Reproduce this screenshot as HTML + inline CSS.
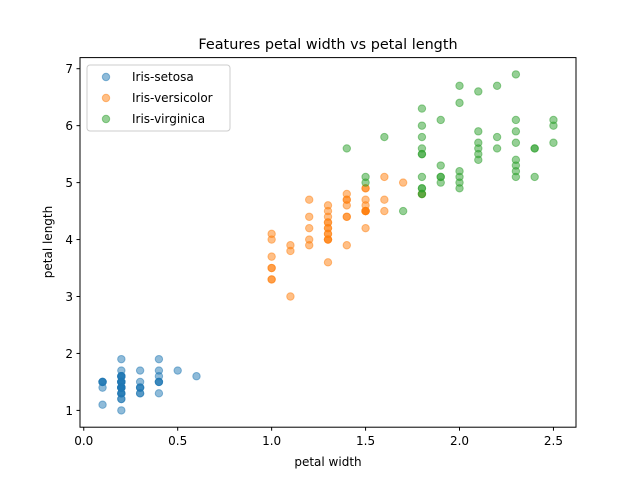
<!DOCTYPE html>
<html><head><meta charset="utf-8"><style>body{margin:0;background:#fff}svg{display:block;font-family:"DejaVu Sans","Liberation Sans",sans-serif}</style></head>
<body>
<svg id="c" width="640" height="480">
<rect width="640" height="480" fill="#fff"/>
<g id="pts"></g>
<rect x="80" y="57.6" width="496" height="369.6" fill="none" stroke="#000" stroke-width="1"/>
<g id="axes"></g>
<text x="328" y="49" font-size="14.4" text-anchor="middle">Features petal width vs petal length</text>
<text x="328" y="466" font-size="12" text-anchor="middle">petal width</text>
<text x="52" y="242" font-size="12" text-anchor="middle" transform="rotate(-90 52 242)">petal length</text>
<g>
<rect x="87" y="65" width="143" height="66" rx="3" fill="#fff" fill-opacity="0.8" stroke="#ccc"/>
<circle cx="106" cy="77" r="3.7" fill="#1f77b4" fill-opacity="0.5" stroke="#1f77b4" stroke-opacity="0.5"/>
<text x="132" y="81" font-size="12">Iris-setosa</text>
<circle cx="106" cy="98" r="3.7" fill="#ff7f0e" fill-opacity="0.5" stroke="#ff7f0e" stroke-opacity="0.5"/>
<text x="132" y="102" font-size="12">Iris-versicolor</text>
<circle cx="106" cy="119" r="3.7" fill="#2ca02c" fill-opacity="0.5" stroke="#2ca02c" stroke-opacity="0.5"/>
<text x="132" y="123" font-size="12">Iris-virginica</text>
</g>
</svg>
<script>
const setosaLength=[1.4,1.4,1.3,1.5,1.4,1.7,1.4,1.5,1.4,1.5,1.5,1.6,1.4,1.1,1.2,1.5,1.3,1.4,1.7,1.5,1.7,1.5,1.0,1.7,1.9,1.6,1.6,1.5,1.4,1.6,1.6,1.5,1.5,1.4,1.5,1.2,1.3,1.5,1.3,1.5,1.3,1.3,1.3,1.6,1.9,1.4,1.6,1.4,1.5,1.4];
const setosaWidth=[.2,.2,.2,.2,.2,.4,.3,.2,.2,.1,.2,.2,.1,.1,.2,.4,.4,.3,.3,.3,.2,.4,.2,.5,.2,.2,.4,.2,.2,.2,.2,.4,.1,.2,.1,.2,.2,.1,.2,.2,.3,.3,.2,.6,.4,.3,.2,.2,.2,.2];
const versicolorLength=[4.7,4.5,4.9,4.0,4.6,4.5,4.7,3.3,4.6,3.9,3.5,4.2,4.0,4.7,3.6,4.4,4.5,4.1,4.5,3.9,4.8,4.0,4.9,4.7,4.3,4.4,4.8,5.0,4.5,3.5,3.8,3.7,3.9,5.1,4.5,4.5,4.7,4.4,4.1,4.0,4.4,4.6,4.0,3.3,4.2,4.2,4.2,4.3,3.0,4.1];
const versicolorWidth=[1.4,1.5,1.5,1.3,1.5,1.3,1.6,1.0,1.3,1.4,1.0,1.5,1.0,1.4,1.3,1.4,1.5,1.0,1.5,1.1,1.8,1.3,1.5,1.2,1.3,1.4,1.4,1.7,1.5,1.0,1.1,1.0,1.2,1.6,1.5,1.6,1.5,1.3,1.3,1.3,1.2,1.4,1.2,1.0,1.3,1.2,1.3,1.3,1.1,1.3];
const virginicaLength=[6.0,5.1,5.9,5.6,5.8,6.6,4.5,6.3,5.8,6.1,5.1,5.3,5.5,5.0,5.1,5.3,5.5,6.7,6.9,5.0,5.7,4.9,6.7,4.9,5.7,6.0,4.8,4.9,5.6,5.8,6.1,6.4,5.6,5.1,5.6,6.1,5.6,5.5,4.8,5.4,5.6,5.1,5.1,5.9,5.7,5.2,5.0,5.2,5.4,5.1];
const virginicaWidth=[2.5,1.9,2.1,1.8,2.2,2.1,1.7,1.8,1.8,2.5,2.0,1.9,2.1,2.0,2.4,2.3,1.8,2.2,2.3,1.5,2.3,2.0,2.0,1.8,2.1,1.8,1.8,1.8,2.1,1.6,1.9,2.0,2.2,1.5,1.4,2.3,2.4,1.8,1.8,2.1,2.4,2.3,1.9,2.3,2.5,2.3,1.9,2.0,2.3,1.8];
const xTicks=[0.0,0.5,1.0,1.5,2.0,2.5];
const xTickLabels=["0.0","0.5","1.0","1.5","2.0","2.5"];
const yTicks=[1,2,3,4,5,6,7];
const yTickLabels=["1","2","3","4","5","6","7"];
const NS="http://www.w3.org/2000/svg";
const X0=-0.02,X1=2.62,Y0=0.705,Y1=7.195;
function sx(v){return 80+(v-X0)/(X1-X0)*496;}
function sy(v){return 427.2-(v-Y0)/(Y1-Y0)*369.6;}
const pts=document.getElementById('pts');
function series(xs,ys,color,name){
  for(let i=0;i<xs.length;i++){
    const c=document.createElementNS(NS,'circle');
    c.setAttribute('cx',sx(xs[i]));c.setAttribute('cy',sy(ys[i]));
    c.setAttribute('r',3.7);c.setAttribute('fill',color);c.setAttribute('fill-opacity',0.5);
    c.setAttribute('stroke',color);c.setAttribute('stroke-opacity',0.5);c.setAttribute('stroke-width',1);
    
    
    pts.appendChild(c);
  }
}
series(setosaWidth,setosaLength,'#1f77b4','setosa');
series(versicolorWidth,versicolorLength,'#ff7f0e','versicolor');
series(virginicaWidth,virginicaLength,'#2ca02c','virginica');
const ax=document.getElementById('axes');
xTicks.forEach((t,i)=>{
  const x=sx(t);
  const l=document.createElementNS(NS,'line');
  l.setAttribute('x1',x);l.setAttribute('x2',x);l.setAttribute('y1',427.2);l.setAttribute('y2',430.7);l.setAttribute('stroke','#000');
  
  
  ax.appendChild(l);
  const tx=document.createElementNS(NS,'text');
  tx.setAttribute('x',x);tx.setAttribute('y',445);tx.setAttribute('font-size',12);tx.setAttribute('text-anchor','middle');
  tx.textContent=xTickLabels[i];
  
  
  ax.appendChild(tx);
});
yTicks.forEach((t,i)=>{
  const y=sy(t);
  const l=document.createElementNS(NS,'line');
  l.setAttribute('x1',76.5);l.setAttribute('x2',80);l.setAttribute('y1',y);l.setAttribute('y2',y);l.setAttribute('stroke','#000');
  
  
  ax.appendChild(l);
  const tx=document.createElementNS(NS,'text');
  tx.setAttribute('x',73);tx.setAttribute('y',y+4.5);tx.setAttribute('font-size',12);tx.setAttribute('text-anchor','end');
  tx.textContent=yTickLabels[i];
  
  
  ax.appendChild(tx);
});
</script>
</body></html>
